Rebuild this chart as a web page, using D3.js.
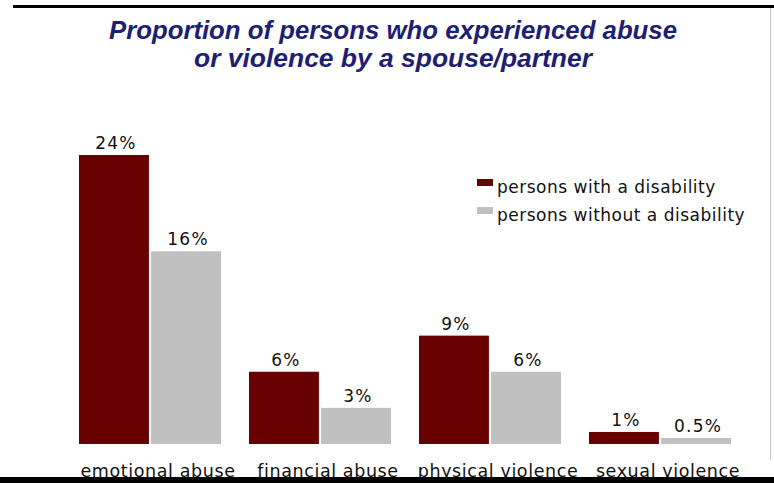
<!DOCTYPE html>
<html>
<head>
<meta charset="utf-8">
<script src="https://cdn.jsdelivr.net/npm/d3@7/dist/d3.min.js"></script>
<style>
  html, body { margin: 0; padding: 0; background: #fff; }
  svg { display: block; }
</style>
</head>
<body>
<svg id="chart" width="774" height="483"></svg>
<script>
// Survey figures: share of persons (%) who experienced each type of abuse or violence
const categories = ["emotional abuse", "financial abuse", "physical violence", "sexual violence"];
const seriesNames = ["persons with a disability", "persons without a disability"];
const withDisability = [24, 6, 9, 1];
const withoutDisability = [16, 3, 6, 0.5];
const titleLines = ["Proportion of persons who experienced abuse", "or violence by a spouse/partner"];

const colors = ["#680000", "#c0c0c0"];

const rows = categories.map((c, i) => ({
  category: c,
  values: [
    { series: seriesNames[0], value: withDisability[i] },
    { series: seriesNames[1], value: withoutDisability[i] }
  ]
}));

const svg = d3.select("#chart");
svg.append("rect").attr("width", 774).attr("height", 483).attr("fill", "#fff");

const baseY = 444;
const x0 = d3.scaleBand().domain(categories).range([79, 731]).paddingInner(28 / 170).paddingOuter(0);
const x1 = d3.scaleBand().domain(seriesNames).range([0, x0.bandwidth()]).paddingInner(0.03);
const y = d3.scaleLinear().domain([0, 24]).range([baseY, 155]);
const color = d3.scaleOrdinal().domain(seriesNames).range(colors);

// Title
const title = svg.append("g").attr("class", "title");
titleLines.forEach((line, i) => {
  title.append("text")
    .attr("x", 393)
    .attr("y", 39 + i * 28)
    .attr("text-anchor", "middle")
    .attr("font-family", "'Liberation Sans', Arial, sans-serif")
    .attr("font-weight", "bold")
    .attr("font-style", "italic")
    .attr("font-size", 26)
    .attr("fill", "#1e1e72")
    .attr("textLength", i === 0 ? 568 : 398)
    .attr("lengthAdjust", "spacingAndGlyphs")
    .text(line);
});

// Bars
const groups = svg.append("g").selectAll("g")
  .data(rows)
  .join("g")
  .attr("transform", d => `translate(${x0(d.category)},0)`);

groups.selectAll("rect")
  .data(d => d.values)
  .join("rect")
  .attr("x", d => x1(d.series))
  .attr("y", d => y(d.value))
  .attr("width", x1.bandwidth())
  .attr("height", d => baseY - y(d.value))
  .attr("fill", d => color(d.series));

// Value labels above bars
groups.selectAll("text.value")
  .data(d => d.values)
  .join("text")
  .attr("class", "value")
  .attr("x", d => x1(d.series) + x1.bandwidth() / 2 + 2)
  .attr("y", d => y(d.value) - 6)
  .attr("text-anchor", "middle")
  .attr("font-family", "'DejaVu Sans', Verdana, sans-serif")
  .attr("font-size", 17)
  .attr("letter-spacing", 1.2)
  .attr("fill", "#111")
  .text(d => d.value + "%");

// Category axis labels (no axis line, ticks hidden)
const xAxis = d3.axisBottom(x0).tickSize(0).tickPadding(0);
const axisG = svg.append("g")
  .attr("transform", `translate(8,${baseY})`)
  .call(xAxis);
axisG.select(".domain").remove();
axisG.selectAll("text")
  .attr("y", 33)
  .attr("dy", 0)
  .attr("font-family", "'DejaVu Sans', Verdana, sans-serif")
  .attr("font-size", 17.5)
  .attr("letter-spacing", 0.6)
  .attr("fill", "#111");

// Legend
const legend = svg.append("g").attr("transform", "translate(477,193)");
const items = legend.selectAll("g")
  .data(seriesNames)
  .join("g")
  .attr("transform", (d, i) => `translate(0,${i * 28})`);
items.append("rect")
  .attr("x", 0).attr("y", -14)
  .attr("width", 16).attr("height", 7)
  .attr("fill", d => color(d));
items.append("text")
  .attr("x", 20).attr("y", 0)
  .attr("font-family", "'DejaVu Sans', Verdana, sans-serif")
  .attr("font-size", 17)
  .attr("letter-spacing", 0.5)
  .attr("fill", "#111")
  .text(d => d);

// Frame rules
svg.append("rect").attr("x", 13).attr("y", 5).attr("width", 761).attr("height", 3).attr("fill", "#000");
svg.append("rect").attr("x", 770).attr("y", 8).attr("width", 1).attr("height", 452).attr("fill", "#c8c8c8");
svg.append("rect").attr("x", 0).attr("y", 477).attr("width", 774).attr("height", 6).attr("fill", "#000");
</script>
</body>
</html>
